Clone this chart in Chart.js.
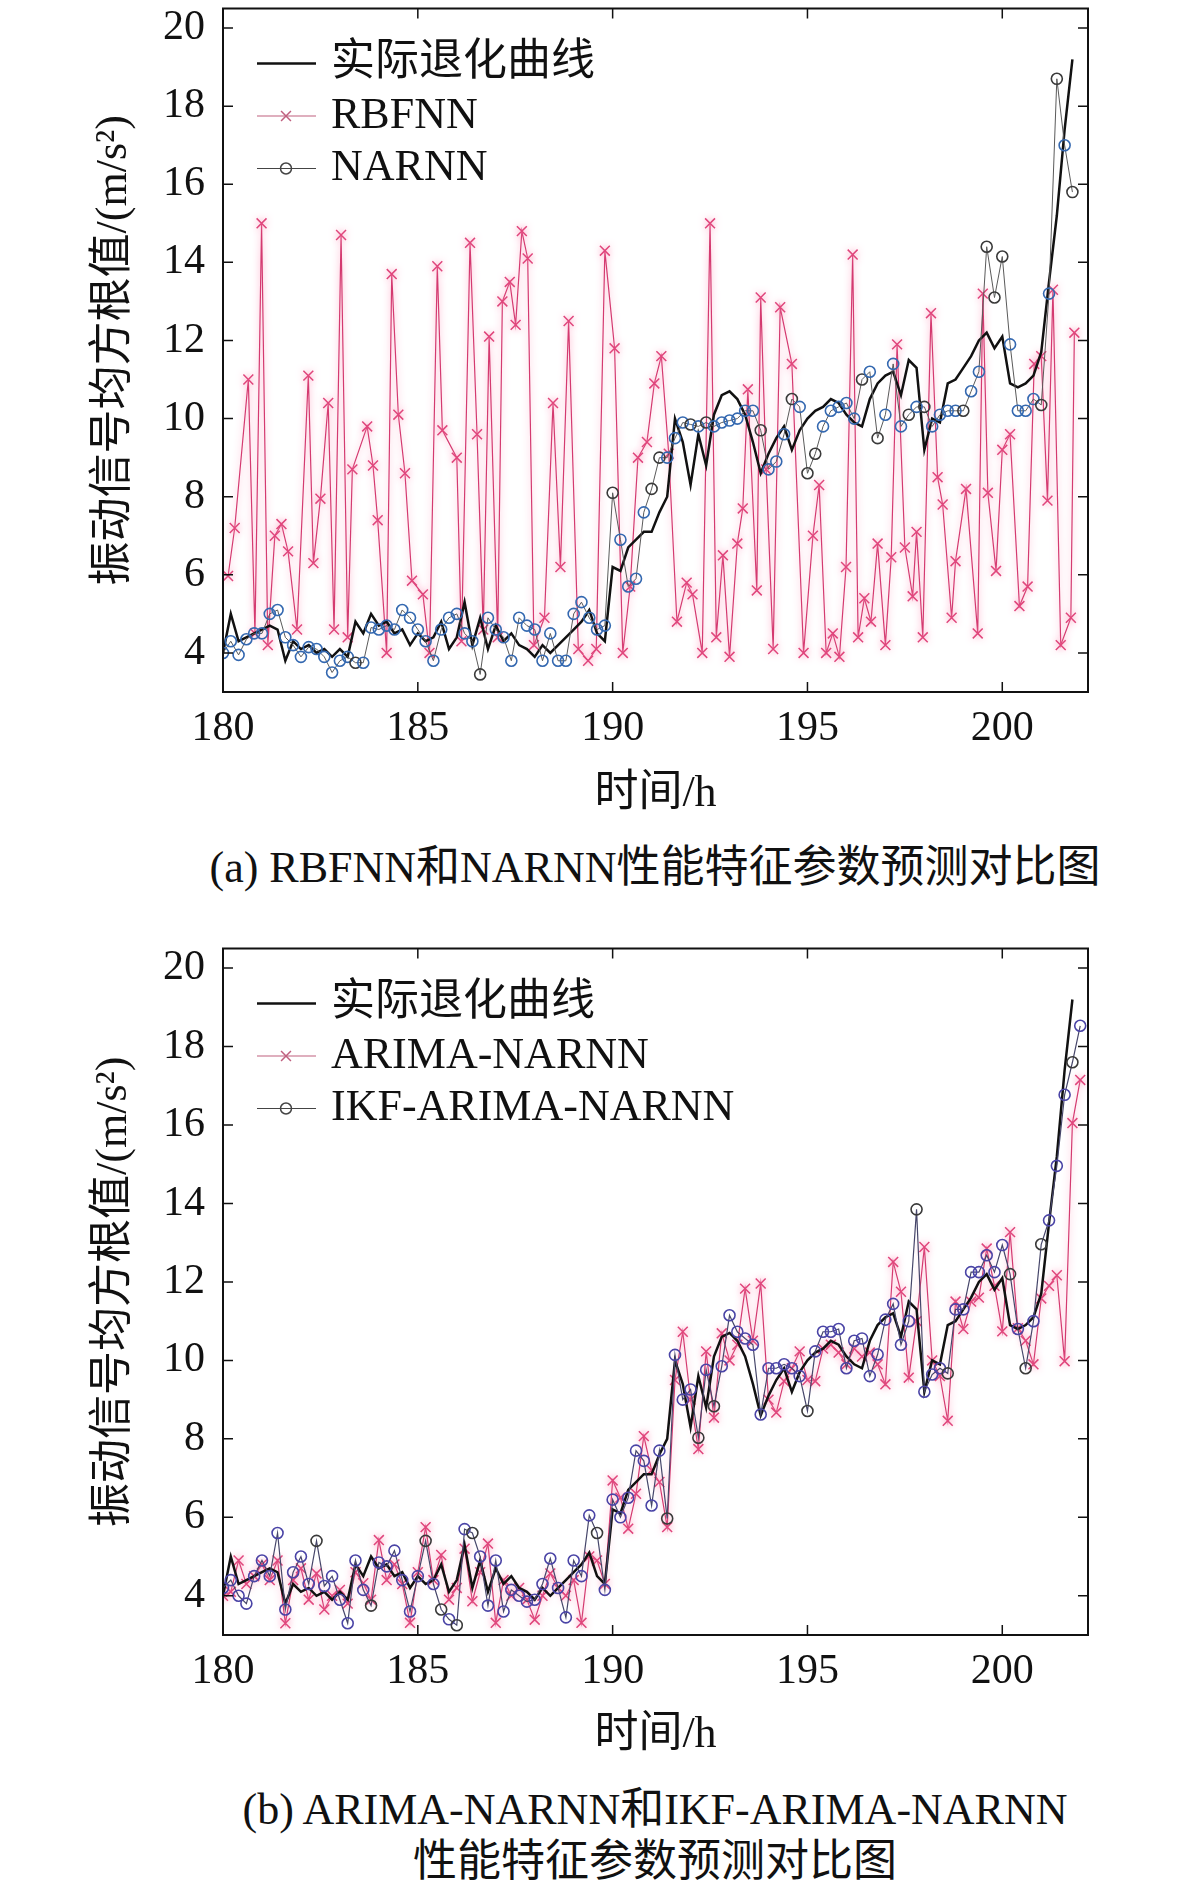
<!DOCTYPE html>
<html>
<head>
<meta charset="utf-8">
<script src="https://cdn.jsdelivr.net/npm/chart.js@4.4.1/dist/chart.umd.min.js"></script>
<style>
  body { margin: 0; background: #fff; width: 1181px; height: 1890px; position: relative; overflow: hidden;
         font-family: "Liberation Serif", "Noto Sans CJK SC", serif; color: #111; }
  canvas { position: absolute; left: 0; }
  .cap { position: absolute; left: 655px; transform: translateX(-50%); text-align: center;
         font-size: 44px; line-height: 52px; white-space: nowrap; }
</style>
</head>
<body>
<canvas id="chartA" width="1181" height="830" style="top:0"></canvas>
<div class="cap" style="top:842px">(a) RBFNN和NARNN性能特征参数预测对比图</div>
<canvas id="chartB" width="1181" height="830" style="top:940px"></canvas>
<div class="cap" style="top:1784px">(b) ARIMA-NARNN和IKF-ARIMA-NARNN<br>性能特征参数预测对比图</div>

<script>
// sampling of the measured series (h)
const timeStart = 180;
const timeStep = 0.2;

const xTicks = [180, 185, 190, 195, 200];
const yTicks = [4, 6, 8, 10, 12, 14, 16, 18, 20];

// 实际退化曲线 (180.0 ... 201.8)
const actual = [
  4.0, 5.0, 4.3, 4.4, 4.5, 4.6, 4.7, 4.6, 3.8, 4.3,
  4.1, 4.2, 4.0, 4.1, 3.9, 4.1, 3.9, 4.8, 4.5, 5.0,
  4.7, 4.8, 4.5, 4.6, 4.2, 4.5, 4.3, 4.4, 4.8, 4.1,
  4.4, 5.3, 4.2, 4.9, 4.1, 4.7, 4.3, 4.5, 4.2, 4.1,
  3.9, 4.2, 4.0, 4.2, 4.4, 4.6, 4.8, 5.1, 4.5, 4.3,
  6.2, 6.1, 6.7, 6.9, 7.1, 7.1, 7.6, 8.0, 10.0, 9.4,
  8.3, 9.6, 8.8, 10.1, 10.6, 10.7, 10.5, 10.1, 9.4, 8.6,
  9.1, 9.5, 9.8, 9.2, 9.7, 10.0, 10.2, 10.3, 10.5, 10.4,
  10.1, 9.9, 9.8, 10.5, 10.9, 11.1, 11.2, 10.6, 11.5, 11.3,
  9.2, 10.0, 9.9, 10.9, 11.0, 11.3, 11.6, 12.0, 12.2, 11.8,
  12.1, 10.9, 10.8, 10.9, 11.1, 11.7, 13.5, 15.2, 17.4, 19.2
];

// RBFNN (own sample times)
const rbfTime = [
  180.13, 180.3, 180.65, 180.82, 180.99, 181.15, 181.33, 181.5, 181.67, 181.9,
  182.19, 182.32, 182.5, 182.7, 182.85, 183.03, 183.2, 183.32, 183.7, 183.85,
  183.97, 184.2, 184.33, 184.5, 184.67, 184.85, 185.13, 185.3, 185.5, 185.63,
  186.0, 186.12, 186.34, 186.52, 186.68, 186.83, 187.05, 187.17, 187.36, 187.51,
  187.67, 187.82, 187.98, 188.25, 188.47, 188.66, 188.87, 189.12, 189.37, 189.58,
  189.8, 190.05, 190.26, 190.45, 190.65, 190.88, 191.07, 191.25, 191.44, 191.65,
  191.9, 192.05, 192.3, 192.5, 192.66, 192.83, 193.0, 193.2, 193.34, 193.47,
  193.7, 193.8, 193.94, 194.12, 194.3, 194.6, 194.9, 195.14, 195.3, 195.48,
  195.65, 195.82, 195.99, 196.16, 196.3, 196.46, 196.63, 196.8, 197.0, 197.15,
  197.3, 197.5, 197.7, 197.8, 197.96, 198.17, 198.34, 198.47, 198.7, 198.8,
  199.07, 199.37, 199.5, 199.63, 199.84, 200.0, 200.2, 200.44, 200.65, 200.82,
  201.0, 201.16, 201.3, 201.5, 201.76, 201.85
];
const rbfValue = [
  5.97, 7.2, 11.0, 4.5, 15.0, 4.2, 7.0, 7.3, 6.6, 4.6,
  11.1, 6.3, 7.95, 10.4, 4.6, 14.7, 4.4, 8.7, 9.8, 8.8,
  7.4, 4.0, 13.7, 10.1, 8.6, 5.85, 5.5, 4.0, 13.9, 9.7,
  9.0, 4.3, 14.5, 9.6, 4.6, 12.1, 4.4, 13.0, 13.5, 12.4,
  14.8, 14.1, 4.2, 4.9, 10.4, 6.2, 12.5, 4.1, 3.8, 4.1,
  14.3, 11.8, 4.0, 5.7, 9.0, 9.4, 10.9, 11.6, 9.1, 4.8,
  5.8, 5.5, 4.0, 15.0, 4.4, 6.5, 3.9, 6.8, 7.7, 10.75,
  5.6, 13.1, 8.7, 4.1, 12.85, 11.4, 4.0, 7.0, 8.3, 4.0,
  4.5, 3.9, 6.2, 14.2, 4.4, 5.4, 4.8, 6.8, 4.2, 6.45,
  11.9, 6.7, 5.45, 7.1, 4.4, 12.7, 8.5, 7.8, 4.9, 6.35,
  8.2, 4.5, 13.2, 8.1, 6.1, 9.2, 9.6, 5.2, 5.7, 11.4,
  11.6, 7.9, 13.3, 4.2, 4.9, 12.2
];

// NARNN (180.0 ... 201.8)
const narnn = [
  4.0, 4.3, 3.95, 4.35, 4.5, 4.5, 5.0, 5.1, 4.4, 4.2,
  3.9, 4.15, 4.1, 3.9, 3.5, 3.8, 3.9, 3.75, 3.75, 4.65,
  4.6, 4.7, 4.6, 5.1, 4.9, 4.6, 4.3, 3.8, 4.6, 4.9,
  5.0, 4.5, 4.3, 3.45, 4.9, 4.6, 4.4, 3.8, 4.9, 4.7,
  4.6, 3.8, 4.5, 3.8, 3.8, 5.0, 5.3, 4.9, 4.6, 4.7,
  8.1, 6.9, 5.7, 5.9, 7.6, 8.2, 9.0, 9.0, 9.5, 9.9,
  9.85, 9.8, 9.9, 9.8, 9.9, 9.95, 10.0, 10.2, 10.2, 9.7,
  8.7, 8.9, 9.6, 10.5, 10.3, 8.6, 9.1, 9.8, 10.2, 10.3,
  10.4, 10.0, 11.0, 11.2, 9.5, 10.1, 11.4, 9.8, 10.1, 10.3,
  10.3, 9.8, 10.1, 10.2, 10.2, 10.2, 10.7, 11.2, 14.4, 13.1,
  14.15, 11.9, 10.2, 10.2, 10.5, 10.35, 13.2, 18.7, 17.0, 15.8
];

// ARIMA-NARNN (180.0 ... 202.0)
const arimaNarnn = [
  4.0, 4.1, 4.9, 4.3, 4.5, 4.8, 4.4, 4.9, 3.3, 4.4,
  4.7, 3.9, 4.57, 3.65, 4.0, 4.15, 3.8, 4.6, 4.32, 3.9,
  5.42, 4.4, 4.8, 4.3, 3.31, 4.6, 5.75, 4.4, 5.04, 3.9,
  4.2, 5.2, 3.86, 4.6, 5.33, 3.31, 4.4, 4.0, 4.2, 3.9,
  3.39, 4.0, 4.57, 4.2, 4.0, 4.4, 3.31, 5.0, 4.9, 4.3,
  6.94, 6.5, 5.71, 6.6, 8.07, 7.2, 6.9, 5.75, 9.5, 10.73,
  9.0, 7.74, 10.23, 8.54, 10.69, 10.0, 10.4, 11.83, 10.5, 11.96,
  9.0, 8.67, 9.47, 9.8, 10.23, 9.5, 9.47, 10.3, 10.4, 10.2,
  9.9, 10.3, 10.1, 10.2, 9.9, 9.39, 12.51, 11.75, 9.56, 11.0,
  12.89, 10.0, 9.6, 8.46, 11.5, 10.8, 11.5, 11.6, 12.85, 11.9,
  10.74, 13.27, 10.82, 10.5, 9.9, 11.58, 11.9, 12.17, 9.98, 16.05,
  17.15
];

// IKF-ARIMA-NARNN (180.0 ... 202.0)
const ikfArimaNarnn = [
  4.2, 4.4, 4.0, 3.8, 4.5, 4.9, 4.5, 5.6, 3.65, 4.6,
  5.0, 4.3, 5.4, 4.25, 4.5, 3.9, 3.3, 4.9, 4.15, 3.75,
  4.85, 4.75, 5.15, 4.4, 3.6, 4.5, 5.4, 4.3, 3.65, 3.4,
  3.25, 5.7, 5.6, 5.0, 3.75, 4.9, 3.6, 4.15, 4.0, 3.85,
  3.9, 4.3, 4.95, 4.2, 3.45, 4.9, 4.5, 6.05, 5.6, 4.15,
  6.45, 6.0, 6.5, 7.7, 7.44, 6.3, 7.7, 5.97, 10.14, 9.0,
  9.26, 8.03, 9.76, 8.83, 9.85, 11.15, 10.73, 10.56, 10.4, 8.62,
  9.8, 9.8, 9.9, 9.8, 9.6, 8.71, 10.23, 10.73, 10.73, 10.8,
  9.8, 10.5, 10.56, 9.6, 10.15, 11.04, 11.44, 10.4, 11.0, 13.85,
  9.2, 9.64, 9.8, 9.67, 11.3, 11.3, 12.25, 12.25, 12.68, 12.25,
  12.94, 12.2, 10.8, 9.8, 11.0, 12.96, 13.57, 14.96, 16.77, 17.6,
  18.53
];

const FONT = '"Liberation Serif", "Noto Sans CJK SC", serif';

const sampleTimes = (n) => Array.from({ length: n }, (_, i) => +(timeStart + i * timeStep).toFixed(1));
const pairs = (ts, vs) => vs.map((v, i) => ({ x: ts[i], y: v }));

// circles close to the real curve are coloured, far ones stay dark
const circleColor = (near, far) => (c) => {
  const ref = actual[c.dataIndex];
  return ref !== undefined && Math.abs(c.raw.y - ref) > 1.0 ? far : near;
};

// soft pink halo round the pink series, like the reference
const glowPlugin = {
  id: "glow",
  beforeDatasetDraw(chart, args) {
    const ds = chart.data.datasets[args.index];
    if (!ds.glow) return;
    chart.ctx.save();
    chart.ctx.shadowColor = ds.glow;
    chart.ctx.shadowBlur = 7;
  },
  afterDatasetDraw(chart, args) {
    if (chart.data.datasets[args.index].glow) chart.ctx.restore();
  }
};

// box, inward ticks on all four sides, and the MATLAB-like legend
const framePlugin = {
  id: "frame",
  afterDatasetsDraw(chart) {
    const { ctx, chartArea: a, scales: { x, y } } = chart;
    ctx.save();
    ctx.strokeStyle = "#111";
    ctx.lineWidth = 2;
    ctx.strokeRect(a.left, a.top, a.right - a.left, a.bottom - a.top);
    ctx.lineWidth = 1.5;
    ctx.beginPath();
    x.ticks.forEach((t) => {
      const px = x.getPixelForValue(t.value);
      ctx.moveTo(px, a.bottom); ctx.lineTo(px, a.bottom - 10);
      ctx.moveTo(px, a.top); ctx.lineTo(px, a.top + 10);
    });
    y.ticks.forEach((t) => {
      const py = y.getPixelForValue(t.value);
      ctx.moveTo(a.left, py); ctx.lineTo(a.left + 10, py);
      ctx.moveTo(a.right, py); ctx.lineTo(a.right - 10, py);
    });
    ctx.stroke();

    chart.data.datasets.forEach((ds, i) => {
      const yy = a.top + 55 + i * 52.5;
      ctx.strokeStyle = ds.legendColor;
      ctx.lineWidth = ds.borderWidth;
      ctx.beginPath();
      ctx.moveTo(257, yy);
      ctx.lineTo(316, yy);
      ctx.stroke();
      if (ds.pointRadius > 0) {
        ctx.fillStyle = "rgba(0,0,0,0)";
        ctx.lineWidth = 1.5;
        Chart.helpers.drawPoint(ctx, {
          pointStyle: ds.pointStyle, radius: ds.pointRadius, borderWidth: 1.5, rotation: 0
        }, 286, yy);
      }
      ctx.fillStyle = "#111";
      ctx.font = "44px " + FONT;
      ctx.textBaseline = "middle";
      ctx.textAlign = "left";
      ctx.fillText(ds.label, 331, yy);
    });
    ctx.restore();
  }
};

const makePanel = (id, datasets, topPad, xHeight, titlePad) => {
  return new Chart(document.getElementById(id), {
    type: "line",
    data: { datasets: datasets },
    options: {
      responsive: false,
      animation: false,
      devicePixelRatio: 1,
      layout: { padding: { left: 0, right: 93, top: topPad, bottom: 0 } },
      plugins: { legend: { display: false }, tooltip: { enabled: false } },
      elements: { line: { tension: 0 } },
      scales: {
        x: {
          type: "linear",
          min: 180,
          max: 202.2,
          afterBuildTicks: (s) => { s.ticks = xTicks.map((v) => ({ value: v })); },
          afterFit: (s) => { s.height = xHeight; s.paddingLeft = 0; s.paddingRight = 0; },
          grid: { display: false, drawTicks: false },
          border: { display: false },
          ticks: { font: { family: FONT, size: 42 }, color: "#111", padding: 12, maxRotation: 0, autoSkip: false },
          title: { display: true, text: "时间/h", font: { family: FONT, size: 44 }, color: "#111",
                   padding: { top: 0, bottom: titlePad } }
        },
        y: {
          min: 3,
          max: 20.5,
          afterBuildTicks: (s) => { s.ticks = yTicks.map((v) => ({ value: v })); },
          afterFit: (s) => { s.width = 223; s.paddingTop = 0; s.paddingBottom = 0; },
          grid: { display: false, drawTicks: false },
          border: { display: false },
          ticks: { font: { family: FONT, size: 42 }, color: "#111", padding: 18 },
          title: { display: true, text: "振动信号均方根值/(m/s²)", font: { family: FONT, size: 44 }, color: "#111",
                   padding: { top: 88, bottom: 0 } }
        }
      }
    },
    plugins: [glowPlugin, framePlugin]
  });
};

const actualSet = () => ({
  label: "实际退化曲线",
  data: pairs(sampleTimes(actual.length), actual),
  borderColor: "#111", legendColor: "#111", borderWidth: 2.5,
  pointRadius: 0, order: 2
});

makePanel("chartA", [
  actualSet(),
  {
    label: "RBFNN",
    data: pairs(rbfTime, rbfValue),
    borderColor: "#d43a70", legendColor: "#c0607f", borderWidth: 1.2, glow: "rgba(255,140,180,0.9)",
    pointStyle: "crossRot", pointRadius: 7, pointBorderWidth: 1.5,
    pointBorderColor: "#e0467c", pointBackgroundColor: "rgba(0,0,0,0)", order: 3
  },
  {
    label: "NARNN",
    data: pairs(sampleTimes(narnn.length), narnn),
    borderColor: "#5a5a5a", legendColor: "#444", borderWidth: 1,
    pointStyle: "circle", pointRadius: 5.5, pointBorderWidth: 1.6,
    pointBorderColor: circleColor("#3468b0", "#3a3a3a"), pointBackgroundColor: "rgba(0,0,0,0)", order: 1
  }
], 2, 138, 9);

makePanel("chartB", [
  actualSet(),
  {
    label: "ARIMA-NARNN",
    data: pairs(sampleTimes(arimaNarnn.length), arimaNarnn),
    borderColor: "#d43a70", legendColor: "#c0607f", borderWidth: 1.2, glow: "rgba(255,140,180,0.9)",
    pointStyle: "crossRot", pointRadius: 7, pointBorderWidth: 1.5,
    pointBorderColor: "#e0467c", pointBackgroundColor: "rgba(0,0,0,0)", order: 3
  },
  {
    label: "IKF-ARIMA-NARNN",
    data: pairs(sampleTimes(ikfArimaNarnn.length), ikfArimaNarnn),
    borderColor: "#46466a", legendColor: "#444", borderWidth: 1.2,
    pointStyle: "circle", pointRadius: 5.5, pointBorderWidth: 1.6,
    pointBorderColor: circleColor("#4a44a6", "#3a3a3a"), pointBackgroundColor: "rgba(0,0,0,0)", order: 1
  }
], 5, 135, 8);
</script>
</body>
</html>
